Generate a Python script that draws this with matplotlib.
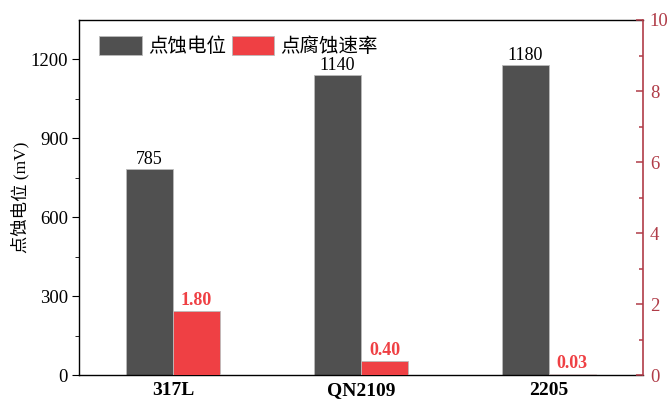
import numpy as np
import matplotlib
matplotlib.use('Agg')
import matplotlib.pyplot as plt

plt.rcParams['font.family'] = ['Liberation Serif', 'Noto Sans CJK SC', 'DejaVu Sans']

# данные
steels = ['317L', 'QN2109', '2205']
pit_potential = [785, 1140, 1180]      # mV
pit_rate = [1.80, 0.40, 0.03]
potential_labels = ['785', '1140', '1180']
rate_labels = ['1.80', '0.40', '0.03']

dark = '#505050'
red = '#ef4044'
axis_red = '#b03c48'

fig = plt.figure(figsize=(6.71, 4.0), dpi=100)
ax = fig.add_axes([0.118, 0.062, 0.840, 0.888])
ax2 = ax.twinx()

x = np.arange(len(steels))
w = 0.25
b1 = ax.bar(x - w / 2, pit_potential, w, color=dark, edgecolor='#bbbbbb', linewidth=0.6, label='点蚀电位')
b2 = ax2.bar(x + w / 2, pit_rate, w, color=red, edgecolor='#bbbbbb', linewidth=0.6, label='点腐蚀速率')

for rect, t in zip(b1, potential_labels):
    ax.text(rect.get_x() + rect.get_width() / 2, rect.get_height() + 4, t,
            ha='center', va='bottom', fontsize=13, color='black')
for rect, t in zip(b2, rate_labels):
    ax2.text(rect.get_x() + rect.get_width() / 2, rect.get_height() + 0.05, t,
             ha='center', va='bottom', fontsize=13, color=red, fontweight='bold')

ax.set_xlim(-0.5, 2.5)
ax.set_ylim(0, 1350)
ax.set_yticks([0, 300, 600, 900, 1200])
ax.set_yticks([150, 450, 750, 1050], minor=True)
ax.set_xticks(x)
ax.set_xticklabels(steels, fontsize=14, fontweight='bold')
ax.tick_params(axis='x', length=0, pad=5)
ax.tick_params(axis='y', which='major', direction='out', length=5, labelsize=13.5, pad=3)
ax.tick_params(axis='y', which='minor', direction='out', length=3)
ax.set_ylabel('点蚀电位 (mV)', fontsize=12.5, labelpad=1)

ax2.set_ylim(0, 10)
ax2.set_yticks([0, 2, 4, 6, 8, 10])
ax2.set_yticks([1, 3, 5, 7, 9], minor=True)
ax2.tick_params(axis='y', which='major', direction='in', length=5, width=1.1, labelsize=13.5,
                colors=axis_red, pad=5)
ax2.tick_params(axis='y', which='minor', direction='in', length=3, width=1.1, colors=axis_red)
ax2.spines['right'].set_color(axis_red)
ax2.spines['right'].set_linewidth(1.2)
for s in ['top', 'left', 'bottom']:
    ax2.spines[s].set_visible(False)
for s in ['top', 'left', 'bottom']:
    ax.spines[s].set_linewidth(1.0)
ax.spines['right'].set_visible(False)

h1, l1 = ax.get_legend_handles_labels()
h2, l2 = ax2.get_legend_handles_labels()
ax.legend(h1 + h2, l1 + l2, loc='upper left', ncol=2, frameon=False, fontsize=14,
          handlelength=2.2, handleheight=1.2, columnspacing=0.3, handletextpad=0.3,
          bbox_to_anchor=(0.008, 1.0), borderaxespad=0.4)

fig.savefig('out.png', dpi=100)
